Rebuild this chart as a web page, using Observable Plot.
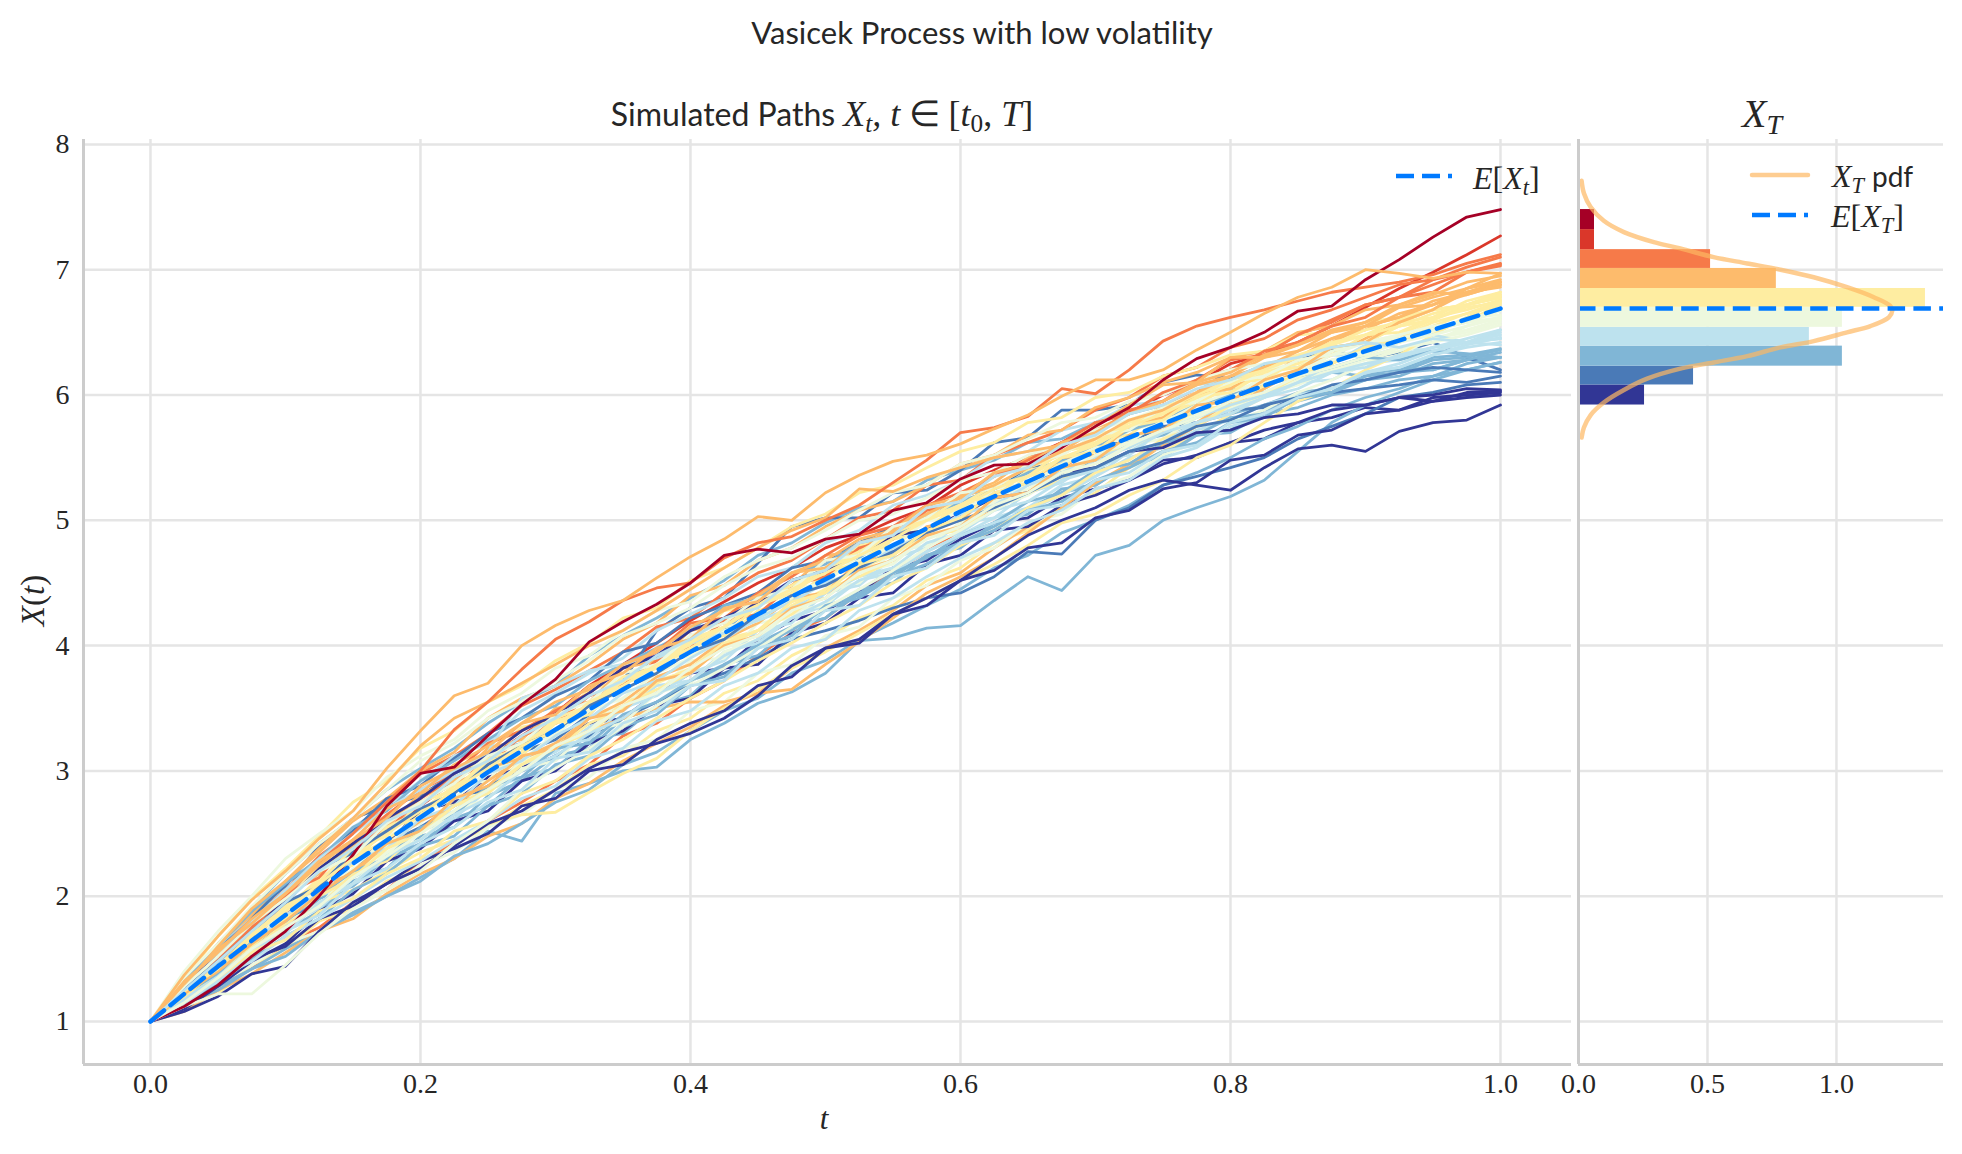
<!DOCTYPE html>
<html>
<head>
<meta charset="utf-8">
<script src="https://cdn.jsdelivr.net/npm/d3@7"></script>
<script src="https://cdn.jsdelivr.net/npm/@observablehq/plot@0.6"></script>
<style>
  html, body { margin: 0; background: #fff; }
  #page { position: relative; width: 1962px; height: 1154px; overflow: hidden; color: #262626; }
  #page > div.plotbox { position: absolute; top: 0; }
  .lbl { position: absolute; white-space: nowrap; line-height: 1; }
  .sans { font-family: "Lato", sans-serif; font-size: 31px; font-weight: 400; }
  .serif { font-family: "Liberation Serif", serif; font-size: 32px; }
  .lbl i { font-family: "Liberation Serif", serif; font-style: italic; }
  .lbl sub { font-size: 0.7em; line-height: 0; vertical-align: -0.25em; }
  .sample { position: absolute; overflow: visible; }
</style>
</head>
<body>
<div id="page">
  <div class="plotbox" id="main" style="left:0"></div>
  <div class="plotbox" id="hist" style="left:1540px"></div>

  <div class="lbl sans" style="left:982px;top:17px;transform:translateX(-50%)">Vasicek Process with low volatility</div>
  <div class="lbl sans" style="left:822px;top:96px;transform:translateX(-50%);font-size:32px">Simulated Paths <i style="font-size:36px">X<sub>t</sub>, t</i> <span class="serif" style="font-size:36px">∈ [<i>t</i><sub>0</sub>, <i>T</i>]</span></div>
  <div class="lbl serif" style="left:1762px;top:94px;transform:translateX(-50%);font-size:40px"><i>X<sub>T</sub></i></div>

  <div class="lbl serif" style="left:824px;top:1103px;transform:translateX(-50%);font-size:31px"><i>t</i></div>
  <div class="lbl serif" style="left:33px;top:584px;transform:translate(-50%,0) rotate(-90deg);font-size:33px"><i>X</i>(<i>t</i>)</div>

  <svg class="sample" style="left:1396px;top:166px" width="60" height="20"><line x1="0" x2="56" y1="10" y2="10" stroke="#007aff" stroke-width="4.5" stroke-dasharray="18 8"/></svg>
  <div class="lbl serif" style="left:1473px;top:162px"><i>E</i>[<i>X<sub>t</sub></i>]</div>

  <svg class="sample" style="left:1750px;top:165px" width="64" height="20"><line x1="2" x2="58" y1="10" y2="10" stroke="#fdb863" stroke-opacity="0.7" stroke-width="4.5" stroke-linecap="round"/></svg>
  <div class="lbl serif" style="left:1832px;top:160px"><i>X<sub>T</sub></i> <span class="sans" style="font-size:28px">pdf</span></div>
  <svg class="sample" style="left:1752px;top:205px" width="60" height="20"><line x1="0" x2="56" y1="10" y2="10" stroke="#007aff" stroke-width="4.5" stroke-dasharray="18 8"/></svg>
  <div class="lbl serif" style="left:1831px;top:200px"><i>E</i>[<i>X<sub>T</sub></i>]</div>
</div>

<script>
const xTicks = [0, 0.2, 0.4, 0.6, 0.8, 1.0];
const yTicks = [1, 2, 3, 4, 5, 6, 7, 8];
const histTicks = [0, 0.5, 1.0];

// E[X_t], read every 0.05 in t
const meanPath = [1, 1.44, 1.85, 2.26, 2.63, 2.99, 3.33, 3.65, 3.95, 4.25, 4.53, 4.8, 5.07, 5.31, 5.55, 5.77, 5.98, 6.17, 6.35, 6.52, 6.69];
const meanT = 6.69;

// histogram of X_T, low to high
const binEdges = [5.92, 6.08, 6.23, 6.39, 6.54, 6.70, 6.85, 7.01, 7.16, 7.32, 7.48];
const binDensity = [0.256, 0.446, 1.023, 0.895, 1.023, 1.345, 0.767, 0.512, 0.062, 0.062];
const binColors = ["#313695", "#4a7ab7", "#80b6d6", "#bde2ee", "#edf8de", "#feeda1", "#fdbb6c", "#f67a49", "#da372a", "#a50026"];

// pdf curve
const pdfX = [0.012, 0.021, 0.047, 0.098, 0.176, 0.292, 0.395, 0.524, 0.654, 0.783, 0.912, 1.041, 1.145, 1.209, 1.216, 1.203, 1.132, 1.041, 0.912, 0.783, 0.654, 0.524, 0.395, 0.266, 0.176, 0.098, 0.047, 0.021, 0.012];
const pdfY = [7.71, 7.61, 7.5, 7.39, 7.3, 7.22, 7.17, 7.1, 7.05, 7.0, 6.94, 6.86, 6.78, 6.71, 6.67, 6.62, 6.55, 6.5, 6.43, 6.38, 6.31, 6.26, 6.21, 6.13, 6.04, 5.94, 5.84, 5.74, 5.66];

// simulated paths, evenly spaced over t in [0, 1]
const paths = [
  [1,1.2,1.42,1.62,1.85,2.1,2.3,2.52,2.72,2.92,3.1,3.28,3.46,3.68,3.85,4.02,4.2,4.35,4.5,4.62,4.78,4.88,5.0,5.1,5.28,5.4,5.5,5.62,5.78,5.86,6.0,6.1,6.25,6.32,6.42,6.55,6.7,6.85,6.98,7.12,7.27],
  [1,1.3,1.55,1.72,1.98,2.22,2.35,2.58,2.8,2.92,3.15,3.22,3.42,3.6,3.7,3.92,4.05,4.12,4.35,4.42,4.62,4.7,4.88,4.92,5.1,5.18,5.3,5.38,5.48,5.62,5.68,5.78,5.85,5.92,6.02,6.05,6.12,6.18,6.2,6.28,6.3],
  [1,1.1,1.28,1.42,1.62,1.75,1.95,2.05,2.28,2.42,2.6,2.75,2.92,3.05,3.28,3.38,3.58,3.72,3.92,4.1,4.22,4.42,4.58,4.75,4.92,5.1,5.22,5.42,5.58,5.72,5.92,6.02,6.2,6.32,6.48,6.58,6.72,6.78,6.88,6.98,7.03],
  [1,1.18,1.38,1.62,1.78,2.02,2.15,2.4,2.52,2.75,2.85,3.08,3.18,3.42,3.52,3.72,3.8,4.05,4.12,4.32,4.45,4.62,4.72,4.9,5.02,5.2,5.28,5.45,5.55,5.72,5.85,5.92,6.08,6.15,6.28,6.35,6.42,6.55,6.6,6.72,6.78],
  [1,1.32,1.62,1.9,2.18,2.42,2.62,2.85,3.02,3.18,3.38,3.55,3.68,3.92,4.08,4.22,4.38,4.52,4.72,4.82,4.98,5.1,5.15,5.32,5.4,5.48,5.62,5.65,5.78,5.85,5.92,5.98,6.05,6.02,6.12,6.18,6.15,6.22,6.2,6.28,6.3],
  [1,1.35,1.58,1.86,2.08,2.4,2.62,2.72,2.8,2.98,3.1,3.15,3.25,3.45,3.72,4.12,4.3,4.38,4.66,4.95,5.02,5.02,5.22,5.24,5.4,5.62,5.66,5.88,5.88,5.92,6.1,6.16,6.13,6.24,6.28,6.36,6.29,6.34,6.42,6.3,6.2],
  [1,1.25,1.52,1.68,1.92,2.05,2.3,2.42,2.68,2.75,2.95,3.02,3.22,3.38,3.42,3.62,3.78,3.82,4.05,4.2,4.28,4.42,4.62,4.68,4.85,4.98,5.02,5.18,5.25,5.32,5.48,5.5,5.62,5.65,5.78,5.82,5.9,5.88,5.98,6.0,6.02],
  [1,1.15,1.22,1.45,1.58,1.8,1.9,2.12,2.22,2.42,2.55,2.72,2.85,3.05,3.12,3.32,3.42,3.62,3.72,3.92,4.05,4.22,4.32,4.52,4.62,4.82,4.92,5.12,5.22,5.42,5.55,5.68,5.85,5.98,6.12,6.25,6.38,6.48,6.6,6.72,6.8],
  [1,1.28,1.55,1.82,2.05,2.32,2.52,2.72,2.98,3.12,3.3,3.52,3.65,3.8,3.95,4.15,4.22,4.42,4.58,4.68,4.85,5.02,5.08,5.28,5.32,5.52,5.62,5.72,5.88,5.98,6.15,6.22,6.38,6.45,6.6,6.68,6.78,6.88,6.92,7.02,7.1],
  [1,1.15,1.32,1.55,1.72,1.88,2.12,2.22,2.48,2.55,2.8,2.92,3.12,3.18,3.42,3.5,3.72,3.82,4.02,4.15,4.22,4.45,4.5,4.72,4.82,4.95,5.1,5.22,5.28,5.45,5.52,5.68,5.72,5.88,5.95,6.02,6.18,6.2,6.3,6.32,6.37],
  [1,1.28,1.6,1.85,2.02,2.3,2.55,2.72,2.92,3.12,3.22,3.48,3.62,3.78,3.9,4.12,4.25,4.38,4.55,4.62,4.82,4.92,5.12,5.2,5.32,5.5,5.55,5.72,5.78,5.92,5.95,6.08,6.12,6.2,6.22,6.32,6.3,6.38,6.35,6.42,6.45],
  [1,1.26,1.48,1.75,1.88,2.15,2.28,2.55,2.62,2.85,3.02,3.12,3.38,3.45,3.7,3.78,4.0,4.05,4.28,4.35,4.58,4.62,4.85,4.9,5.12,5.15,5.35,5.42,5.6,5.62,5.82,5.85,6.02,6.05,6.2,6.25,6.38,6.42,6.55,6.58,6.73],
  [1,1.12,1.28,1.42,1.58,1.72,1.87,2.0,2.15,2.3,2.52,2.44,2.82,2.9,3.0,3.03,3.25,3.38,3.54,3.63,3.78,4.04,4.06,4.14,4.16,4.36,4.55,4.44,4.72,4.8,5.0,5.1,5.19,5.32,5.55,5.78,5.92,6.02,6.12,6.2,6.26],
  [1,1.08,1.25,1.38,1.55,1.72,1.82,2.02,2.18,2.3,2.48,2.58,2.78,2.9,3.08,3.22,3.35,3.52,3.62,3.82,3.98,4.12,4.28,4.48,4.58,4.78,4.95,5.1,5.3,5.42,5.6,5.75,5.9,6.05,6.2,6.32,6.45,6.58,6.68,6.82,6.9],
  [1,1.3,1.62,1.85,2.12,2.35,2.6,2.78,3.0,3.15,3.42,3.58,3.68,3.85,4.05,4.18,4.4,4.48,4.68,4.78,4.95,5.08,5.15,5.28,5.45,5.52,5.68,5.72,5.9,5.98,6.1,6.18,6.3,6.35,6.5,6.55,6.68,6.72,6.8,6.9,6.95],
  [1,1.22,1.4,1.58,1.8,1.98,2.18,2.32,2.55,2.68,2.88,3.05,3.15,3.35,3.48,3.68,3.72,3.95,4.02,4.22,4.32,4.52,4.58,4.75,4.88,5.02,5.1,5.28,5.35,5.5,5.58,5.72,5.8,5.92,6.0,6.05,6.18,6.22,6.32,6.4,6.46],
  [1,1.35,1.68,1.98,2.22,2.48,2.75,2.92,3.18,3.32,3.55,3.68,3.88,4.02,4.22,4.3,4.52,4.62,4.78,4.95,5.05,5.22,5.28,5.42,5.55,5.62,5.78,5.82,5.98,6.02,6.15,6.22,6.32,6.35,6.48,6.5,6.58,6.62,6.68,6.72,6.78],
  [1,1.24,1.42,1.72,1.82,2.12,2.2,2.48,2.58,2.88,2.92,3.22,3.28,3.55,3.62,3.85,3.92,4.15,4.2,4.45,4.5,4.72,4.78,5.0,5.02,5.25,5.3,5.48,5.5,5.72,5.78,5.95,5.98,6.15,6.18,6.32,6.35,6.48,6.5,6.62,6.64],
  [1,1.14,1.25,1.42,1.52,1.72,1.85,2.0,2.12,2.32,2.42,2.58,2.75,2.85,3.05,3.15,3.32,3.48,3.58,3.78,3.88,4.05,4.18,4.32,4.45,4.62,4.72,4.9,5.0,5.12,5.28,5.38,5.5,5.65,5.75,5.88,5.98,6.05,6.15,6.25,6.3],
  [1,1.2,1.35,1.6,1.75,1.98,2.08,2.3,2.42,2.62,2.72,2.95,3.02,3.25,3.3,3.52,3.6,3.85,3.92,4.15,4.22,4.42,4.55,4.72,4.78,4.98,5.05,5.25,5.28,5.45,5.5,5.68,5.7,5.85,5.9,6.0,6.05,6.12,6.15,6.2,6.26],
  [1,1.34,1.52,1.8,1.95,2.25,2.38,2.65,2.72,3.0,3.08,3.35,3.4,3.65,3.72,3.92,4.02,4.28,4.32,4.52,4.6,4.8,4.85,5.05,5.12,5.28,5.35,5.55,5.6,5.75,5.82,5.98,6.05,6.18,6.22,6.38,6.42,6.58,6.62,6.75,6.82],
  [1,1.2,1.42,1.6,1.78,2.0,2.2,2.42,2.55,2.72,2.88,3.0,3.12,3.28,3.42,3.55,3.68,3.78,3.9,4.05,4.12,4.2,4.3,4.38,4.42,4.55,4.75,4.73,5.0,5.1,5.28,5.35,5.42,5.5,5.65,5.75,5.85,5.98,6.02,6.08,6.1],
  [1,1.26,1.55,1.82,2.1,2.28,2.52,2.78,2.88,3.1,3.3,3.42,3.6,3.72,3.95,4.02,4.22,4.32,4.42,4.62,4.68,4.82,4.95,5.02,5.2,5.25,5.42,5.45,5.6,5.62,5.75,5.78,5.88,5.9,5.98,6.02,6.05,6.08,6.12,6.1,6.15],
  [1,1.3,1.48,1.78,2.0,2.18,2.42,2.55,2.82,2.92,3.18,3.25,3.5,3.55,3.82,3.88,4.12,4.18,4.38,4.48,4.72,4.75,4.95,5.05,5.2,5.3,5.5,5.55,5.72,5.85,5.95,6.08,6.15,6.3,6.35,6.5,6.55,6.7,6.72,6.85,6.92],
  [1,1.16,1.38,1.52,1.78,1.9,2.15,2.28,2.52,2.62,2.85,2.95,3.2,3.25,3.5,3.6,3.78,3.88,4.12,4.18,4.42,4.48,4.7,4.78,4.98,5.02,5.22,5.3,5.48,5.52,5.72,5.75,5.92,5.98,6.1,6.12,6.25,6.28,6.38,6.42,6.5],
  [1,1.1,1.3,1.45,1.62,1.72,1.95,2.05,2.25,2.35,2.55,2.65,2.85,2.95,3.18,3.25,3.48,3.55,3.78,3.85,4.08,4.15,4.38,4.48,4.68,4.78,4.98,5.05,5.25,5.35,5.52,5.62,5.78,5.88,6.02,6.12,6.25,6.32,6.45,6.52,6.6],
  [1,1.27,1.58,1.75,2.02,2.15,2.45,2.52,2.78,2.95,3.05,3.28,3.38,3.6,3.68,3.88,3.98,4.2,4.25,4.48,4.55,4.78,4.85,5.08,5.15,5.38,5.42,5.62,5.68,5.88,5.95,6.12,6.2,6.35,6.42,6.55,6.62,6.78,6.82,6.98,7.05],
  [1,1.22,1.35,1.55,1.8,1.92,2.22,2.35,2.5,2.78,2.82,3.08,3.22,3.32,3.58,3.62,3.88,3.9,4.18,4.22,4.45,4.5,4.75,4.8,4.98,5.1,5.2,5.38,5.42,5.6,5.65,5.82,5.88,6.0,6.08,6.2,6.25,6.38,6.42,6.55,6.62],
  [1,1.1,1.28,1.48,1.62,1.88,2.02,2.28,2.38,2.6,2.68,2.92,3.0,3.22,3.32,3.52,3.58,3.82,3.85,4.1,4.18,4.38,4.42,4.65,4.72,4.92,4.95,5.12,5.2,5.32,5.45,5.52,5.62,5.72,5.78,5.88,5.92,5.98,6.0,6.05,6.04],
  [1,1.25,1.55,1.72,1.95,2.22,2.4,2.6,2.75,2.9,3.02,3.1,3.2,3.32,3.42,3.5,3.55,3.55,3.62,3.65,3.85,4.03,4.22,4.42,4.55,4.7,4.9,5.1,5.3,5.45,5.6,5.78,5.95,6.12,6.3,6.42,6.55,6.62,6.75,6.82,6.9],
  [1,1.4,1.72,2.0,2.3,2.5,2.68,2.95,3.12,3.25,3.48,3.62,3.82,3.92,4.12,4.28,4.35,4.55,4.68,4.78,4.92,5.08,5.22,5.28,5.45,5.52,5.65,5.78,5.82,5.95,6.0,6.12,6.2,6.25,6.3,6.38,6.42,6.48,6.52,6.58,6.62],
  [1,1.28,1.45,1.7,1.9,2.12,2.25,2.55,2.68,2.82,3.08,3.15,3.4,3.48,3.72,3.82,4.02,4.08,4.32,4.42,4.6,4.65,4.88,4.92,5.15,5.18,5.4,5.45,5.65,5.68,5.88,5.92,6.1,6.12,6.28,6.32,6.48,6.5,6.62,6.68,6.76],
  [1,1.18,1.4,1.55,1.72,1.95,2.1,2.35,2.45,2.68,2.78,3.02,3.08,3.32,3.38,3.62,3.7,3.95,4.05,4.28,4.32,4.58,4.65,4.88,4.95,5.15,5.25,5.4,5.5,5.62,5.7,5.85,5.9,6.02,6.12,6.2,6.28,6.35,6.45,6.5,6.58],
  [1,1.32,1.6,1.88,2.1,2.3,2.55,2.68,2.92,3.08,3.25,3.42,3.52,3.72,3.85,3.98,4.12,4.32,4.38,4.58,4.65,4.82,4.88,5.02,5.15,5.25,5.38,5.48,5.58,5.72,5.8,5.92,6.0,6.08,6.15,6.22,6.3,6.28,6.35,6.33,6.3],
  [1,1.2,1.4,1.55,1.72,1.95,2.05,2.2,2.35,2.45,2.58,2.65,2.67,2.83,2.98,3.1,3.32,3.5,3.65,3.82,3.95,4.1,4.25,4.38,4.52,4.65,4.8,4.98,5.05,5.2,5.32,5.5,5.6,5.78,5.95,6.05,6.2,6.32,6.48,6.62,6.75],
  [1,1.15,1.32,1.5,1.6,1.82,1.92,2.1,2.28,2.38,2.5,2.72,2.78,3.0,3.05,3.25,3.38,3.48,3.68,3.75,3.98,4.02,4.25,4.32,4.52,4.6,4.78,4.82,5.02,5.08,5.25,5.3,5.48,5.52,5.68,5.72,5.85,5.88,5.95,5.98,6.0],
  [1,1.26,1.44,1.68,1.82,2.08,2.18,2.42,2.6,2.72,2.92,3.1,3.22,3.42,3.55,3.75,3.85,4.05,4.18,4.38,4.42,4.68,4.72,4.95,5.0,5.22,5.28,5.5,5.52,5.75,5.82,6.0,6.05,6.22,6.3,6.45,6.52,6.65,6.72,6.8,6.88],
  [1,1.14,1.3,1.5,1.68,1.82,2.05,2.18,2.4,2.48,2.72,2.82,3.05,3.12,3.35,3.45,3.68,3.75,3.98,4.08,4.32,4.4,4.58,4.7,4.88,4.98,5.15,5.22,5.4,5.45,5.62,5.68,5.82,5.85,5.98,6.02,6.12,6.15,6.25,6.28,6.34],
  [1,1.3,1.5,1.75,2.0,2.28,2.42,2.65,2.85,2.98,3.22,3.32,3.48,3.62,3.82,3.95,4.18,4.22,4.42,4.55,4.72,4.88,4.95,5.12,5.22,5.35,5.48,5.62,5.78,5.85,6.02,6.12,6.28,6.32,6.48,6.6,6.72,6.78,6.92,6.98,7.04],
  [1,1.12,1.35,1.48,1.68,1.82,1.98,2.15,2.28,2.45,2.6,2.78,2.88,3.1,3.18,3.4,3.48,3.68,3.78,3.98,4.05,4.28,4.38,4.55,4.7,4.82,4.98,5.08,5.25,5.32,5.5,5.58,5.75,5.82,5.98,6.05,6.18,6.25,6.35,6.42,6.48],
  [1,1.23,1.46,1.62,1.88,2.05,2.3,2.4,2.65,2.78,3.0,3.08,3.3,3.48,3.58,3.78,3.9,4.12,4.2,4.38,4.52,4.68,4.78,4.9,5.1,5.18,5.28,5.45,5.58,5.62,5.8,5.88,5.98,6.1,6.15,6.28,6.32,6.42,6.52,6.58,6.67],
  [1,1.3,1.55,1.8,2.05,2.3,2.5,2.7,2.85,3.0,3.15,3.58,3.68,3.8,3.85,3.9,4.02,4.1,4.2,4.3,4.42,4.55,4.62,4.75,4.88,4.98,5.08,5.2,5.35,5.55,5.7,5.78,5.88,5.98,6.1,6.25,6.4,6.45,6.48,6.42,6.45],
  [1,1.2,1.32,1.55,1.65,1.88,1.98,2.18,2.3,2.52,2.6,2.82,2.92,3.12,3.25,3.42,3.58,3.72,3.88,4.02,4.18,4.32,4.5,4.62,4.8,4.92,5.1,5.2,5.38,5.48,5.65,5.75,5.92,6.0,6.15,6.25,6.38,6.45,6.58,6.65,6.75],
  [1,1.2,1.38,1.58,1.78,1.92,2.18,2.28,2.52,2.72,2.82,3.05,3.2,3.3,3.52,3.65,3.78,4.0,4.12,4.25,4.45,4.55,4.68,4.88,4.92,5.12,5.22,5.32,5.52,5.58,5.72,5.88,5.92,6.08,6.15,6.25,6.38,6.42,6.55,6.65,6.72],
  [1,1.08,1.2,1.38,1.44,1.72,1.95,2.1,2.22,2.4,2.58,2.68,2.85,3.02,3.15,3.22,3.3,3.42,3.6,3.84,3.98,4.05,4.25,4.38,4.52,4.7,4.88,5.0,5.1,5.24,5.32,5.28,5.24,5.42,5.57,5.6,5.55,5.71,5.78,5.8,5.92],
  [1,1.35,1.62,1.92,2.18,2.42,2.62,2.85,3.08,3.22,3.42,3.55,3.72,3.88,4.08,4.18,4.3,4.48,4.62,4.7,4.85,5.0,5.05,5.18,5.32,5.38,5.52,5.6,5.72,5.8,5.9,6.02,6.08,6.2,6.25,6.35,6.42,6.45,6.52,6.6,6.68],
  [1,1.22,1.38,1.65,1.8,2.0,2.2,2.3,2.55,2.65,2.88,2.95,3.18,3.22,3.45,3.55,3.72,3.85,4.0,4.12,4.3,4.38,4.55,4.65,4.82,4.92,5.08,5.15,5.32,5.42,5.55,5.62,5.78,5.82,5.98,6.02,6.15,6.18,6.28,6.3,6.36],
  [1,1.25,1.5,1.68,1.92,2.12,2.38,2.48,2.75,2.85,3.1,3.18,3.42,3.52,3.75,3.82,4.05,4.15,4.35,4.48,4.62,4.75,4.9,5.02,5.12,5.28,5.35,5.55,5.62,5.78,5.85,6.02,6.08,6.22,6.3,6.42,6.48,6.6,6.68,6.72,6.82],
  [1,1.3,1.52,1.78,1.95,2.22,2.42,2.62,2.78,2.98,3.12,3.32,3.45,3.62,3.82,3.92,4.12,4.22,4.35,4.52,4.6,4.72,4.88,4.92,5.05,5.18,5.22,5.38,5.42,5.55,5.58,5.7,5.72,5.82,5.85,5.92,5.92,5.98,5.95,6.02,6.03],
  [1,1.22,1.42,1.62,1.85,2.02,2.28,2.38,2.62,2.72,2.98,3.08,3.28,3.42,3.62,3.72,3.9,4.05,4.22,4.35,4.5,4.6,4.78,4.88,5.05,5.12,5.28,5.38,5.5,5.58,5.72,5.82,5.92,6.0,6.1,6.18,6.25,6.3,6.38,6.42,6.52],
  [1,1.28,1.6,1.9,2.12,2.38,2.62,2.9,3.2,3.42,3.55,3.7,3.85,4.0,4.12,4.28,4.45,4.62,4.78,4.92,5.02,5.25,5.23,5.34,5.42,5.5,5.55,5.6,5.75,5.92,6.08,6.1,6.3,6.3,6.4,6.5,6.58,6.72,6.82,6.8,6.88],
  [1,1.2,1.5,1.75,2.0,2.27,2.5,2.75,3.0,3.33,3.55,3.81,4.05,4.19,4.36,4.46,4.5,4.7,4.82,4.87,5.0,5.12,5.3,5.48,5.7,5.74,5.83,6.05,6.01,6.2,6.43,6.55,6.62,6.68,6.75,6.82,6.86,6.9,6.96,7.05,7.12],
  [1,1.24,1.44,1.66,1.92,2.08,2.32,2.5,2.68,2.88,3.02,3.22,3.38,3.52,3.72,3.85,4.02,4.15,4.32,4.45,4.62,4.72,4.9,5.0,5.18,5.28,5.42,5.52,5.68,5.75,5.9,6.0,6.12,6.22,6.32,6.4,6.52,6.58,6.68,6.72,6.78],
  [1,1.18,1.36,1.58,1.7,1.95,2.1,2.32,2.45,2.65,2.78,3.0,3.12,3.3,3.42,3.62,3.72,3.92,4.05,4.22,4.35,4.52,4.62,4.82,4.9,5.08,5.15,5.32,5.4,5.55,5.62,5.78,5.85,5.98,6.05,6.18,6.22,6.32,6.38,6.45,6.52],
  [1,1.32,1.55,1.82,2.02,2.28,2.45,2.7,2.82,3.05,3.2,3.38,3.55,3.65,3.85,3.95,4.15,4.28,4.4,4.58,4.68,4.85,4.92,5.12,5.18,5.38,5.45,5.62,5.7,5.85,5.95,6.1,6.18,6.32,6.4,6.52,6.58,6.7,6.78,6.85,6.9],
  [1,1.12,1.22,1.22,1.45,1.7,1.9,2.05,2.2,2.42,2.6,2.85,3.02,3.18,3.35,3.52,3.68,3.82,3.98,4.15,4.3,4.45,4.6,4.78,4.92,5.08,5.22,5.35,5.52,5.65,5.78,5.92,6.02,6.12,6.2,6.28,6.35,6.42,6.48,6.55,6.62],
  [1,1.26,1.48,1.72,1.95,2.08,2.35,2.52,2.7,2.82,3.05,3.2,3.32,3.52,3.65,3.78,3.95,4.05,4.25,4.4,4.48,4.62,4.75,4.9,5.0,5.1,5.22,5.35,5.42,5.55,5.62,5.75,5.8,5.92,5.98,6.08,6.12,6.18,6.22,6.2,6.18],
  [1,1.2,1.42,1.6,1.82,2.0,2.15,2.38,2.5,2.72,2.85,3.05,3.18,3.38,3.5,3.7,3.82,4.02,4.12,4.35,4.42,4.65,4.72,4.92,5.02,5.22,5.3,5.5,5.55,5.75,5.8,5.98,6.02,6.18,6.25,6.38,6.42,6.55,6.6,6.7,6.74],
  [1,1.28,1.52,1.78,1.98,2.2,2.32,2.58,2.75,2.9,3.12,3.22,3.45,3.55,3.78,3.85,4.08,4.18,4.38,4.45,4.68,4.72,4.95,5.02,5.22,5.25,5.45,5.52,5.68,5.72,5.9,5.95,6.1,6.15,6.28,6.32,6.42,6.48,6.55,6.58,6.6],
  [1,1.16,1.32,1.52,1.72,1.85,2.1,2.22,2.42,2.55,2.75,2.85,3.1,3.15,3.38,3.48,3.68,3.72,3.98,4.05,4.28,4.32,4.55,4.62,4.82,4.88,5.08,5.12,5.32,5.38,5.55,5.6,5.78,5.85,5.98,6.05,6.18,6.22,6.32,6.38,6.42],
  [1,1.3,1.58,1.78,2.02,2.25,2.45,2.62,2.88,3.02,3.15,3.38,3.45,3.68,3.78,3.98,4.05,4.3,4.35,4.58,4.62,4.82,4.9,5.05,5.18,5.28,5.42,5.55,5.65,5.8,5.88,6.02,6.15,6.22,6.35,6.45,6.55,6.62,6.72,6.82,6.86],
  [1,1.22,1.4,1.62,1.8,2.02,2.2,2.42,2.52,2.78,2.88,3.12,3.18,3.42,3.48,3.72,3.78,4.0,4.08,4.3,4.38,4.6,4.68,4.88,4.95,5.18,5.22,5.42,5.48,5.68,5.72,5.92,5.95,6.12,6.2,6.38,6.42,6.58,6.68,6.85,6.97],
  [1,1.12,1.29,1.52,1.72,2.0,2.33,2.72,2.98,3.03,3.28,3.53,3.73,4.03,4.19,4.33,4.5,4.72,4.77,4.74,4.85,4.89,5.08,5.14,5.33,5.44,5.45,5.58,5.75,5.9,6.12,6.29,6.38,6.5,6.67,6.71,6.92,7.08,7.26,7.42,7.48],
  [1,1.24,1.42,1.7,1.88,2.1,2.3,2.45,2.65,2.85,3.02,3.2,3.32,3.55,3.68,3.85,3.98,4.15,4.32,4.45,4.58,4.72,4.85,5.0,5.1,5.25,5.35,5.5,5.6,5.75,5.85,5.98,6.08,6.2,6.3,6.4,6.48,6.55,6.65,6.72,6.8],
  [1,1.15,1.35,1.58,1.75,1.92,2.15,2.32,2.5,2.68,2.85,3.0,3.2,3.32,3.52,3.62,3.82,3.98,4.08,4.28,4.38,4.58,4.68,4.85,4.95,5.12,5.22,5.38,5.45,5.6,5.72,5.82,5.95,6.02,6.15,6.22,6.3,6.38,6.42,6.48,6.56],
  [1,1.37,1.68,1.97,2.2,2.46,2.68,3.02,3.32,3.6,3.7,4.0,4.16,4.28,4.36,4.54,4.71,4.85,5.03,5.0,5.22,5.36,5.47,5.52,5.61,5.73,5.84,5.99,6.12,6.12,6.2,6.36,6.5,6.65,6.78,6.86,7.0,6.97,6.93,6.98,6.97],
  [1,1.25,1.48,1.72,1.95,2.2,2.38,2.6,2.72,2.95,3.08,3.28,3.42,3.6,3.72,3.92,4.05,4.22,4.3,4.52,4.6,4.82,4.88,5.1,5.15,5.35,5.42,5.6,5.68,5.85,5.92,6.05,6.12,6.25,6.3,6.38,6.42,6.38,6.45,6.42,6.4]
];

const pathRows = paths.flatMap((vals, k) =>
  vals.map((v, i) => ({k, t: i / (vals.length - 1), v, end: vals[vals.length - 1]})));
const meanRows = meanPath.map((v, i) => ({t: i / (meanPath.length - 1), v}));
const binRows = binDensity.map((d, i) => ({y1: binEdges[i], y2: binEdges[i + 1], d, mid: (binEdges[i] + binEdges[i + 1]) / 2}));
const pdfRows = pdfX.map((x, i) => ({x, y: pdfY[i]}));

const gridColor = "#e5e5e5";
const spineColor = "#cccccc";
const blue = "#007aff";
const yDomain = [0.657, 8.039];
const colorScale = {type: "threshold", domain: binEdges.slice(1, -1), range: binColors};
const plotStyle = {background: "transparent", fontFamily: "Liberation Serif", fontSize: "28px", color: "#262626"};

const main = Plot.plot({
  width: 1576, height: 1154,
  marginLeft: 83, marginRight: 5, marginTop: 139, marginBottom: 90,
  style: plotStyle,
  x: {domain: [-0.0496, 1.0526], axis: null},
  y: {domain: yDomain, axis: null},
  color: colorScale,
  marks: [
    Plot.gridX(xTicks, {stroke: gridColor, strokeOpacity: 1, strokeWidth: 2.5}),
    Plot.gridY(yTicks, {stroke: gridColor, strokeOpacity: 1, strokeWidth: 2.5}),
    Plot.line(pathRows, {x: "t", y: "v", z: "k", stroke: "end", strokeWidth: 2.8}),
    Plot.line(meanRows, {x: "t", y: "v", stroke: blue, strokeWidth: 4.5, strokeDasharray: "17.5 8.3"}),
    Plot.ruleX([-0.0496], {stroke: spineColor, strokeWidth: 3}),
    Plot.ruleY([yDomain[0]], {stroke: spineColor, strokeWidth: 3}),
    Plot.axisX({ticks: xTicks, tickSize: 0, tickPadding: 9, tickFormat: (d) => d.toFixed(1), label: null}),
    Plot.axisY({ticks: yTicks, tickSize: 0, tickPadding: 14, tickFormat: (d) => String(d), label: null})
  ]
});
document.getElementById("main").append(main);

const hist = Plot.plot({
  width: 422, height: 1154,
  marginLeft: 38, marginRight: 19, marginTop: 139, marginBottom: 90,
  style: plotStyle,
  x: {domain: [0, 1.415], axis: null},
  y: {domain: yDomain, axis: null},
  color: colorScale,
  marks: [
    Plot.gridX(histTicks, {stroke: gridColor, strokeOpacity: 1, strokeWidth: 2.5}),
    Plot.gridY(yTicks, {stroke: gridColor, strokeOpacity: 1, strokeWidth: 2.5}),
    Plot.rectX(binRows, {x1: 0, x2: "d", y1: "y1", y2: "y2", fill: "mid"}),
    Plot.line(pdfRows, {x: "x", y: "y", curve: "catmull-rom", stroke: "#fdb863", strokeOpacity: 0.7, strokeWidth: 4.5}),
    Plot.ruleY([meanT], {stroke: blue, strokeWidth: 4.5, strokeDasharray: "17.5 8.3"}),
    Plot.ruleX([0], {stroke: spineColor, strokeWidth: 3}),
    Plot.ruleY([yDomain[0]], {stroke: spineColor, strokeWidth: 3}),
    Plot.axisX({ticks: histTicks, tickSize: 0, tickPadding: 9, tickFormat: (d) => d.toFixed(1), label: null})
  ]
});
document.getElementById("hist").append(hist);
</script>
</body>
</html>
